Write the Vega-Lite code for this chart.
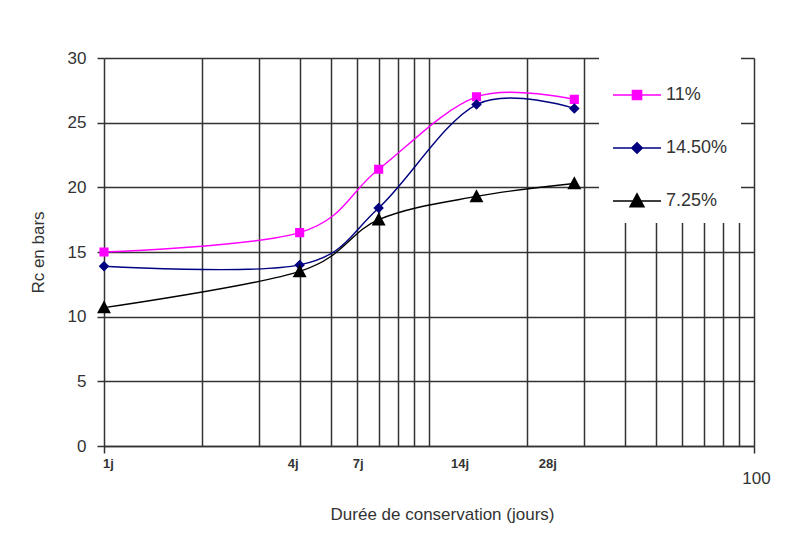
{
  "$schema": "https://vega.github.io/schema/vega-lite/v6.json",
  "width": 650,
  "height": 388,
  "autosize": {"type": "none"},
  "padding": {"left": 104, "top": 58, "right": 46, "bottom": 96},
  "background": "white",
  "config": {"view": {"stroke": null}, "font": "Liberation Sans"},
  "data": {
    "values": [
      {"jours": 1, "rc": 15.0, "serie": "11%"},
      {"jours": 4, "rc": 16.5, "serie": "11%"},
      {"jours": 7, "rc": 21.4, "serie": "11%"},
      {"jours": 14, "rc": 27.0, "serie": "11%"},
      {"jours": 28, "rc": 26.8, "serie": "11%"},
      {"jours": 1, "rc": 13.9, "serie": "14.50%"},
      {"jours": 4, "rc": 14.0, "serie": "14.50%"},
      {"jours": 7, "rc": 18.4, "serie": "14.50%"},
      {"jours": 14, "rc": 26.4, "serie": "14.50%"},
      {"jours": 28, "rc": 26.1, "serie": "14.50%"},
      {"jours": 1, "rc": 10.7, "serie": "7.25%"},
      {"jours": 4, "rc": 13.5, "serie": "7.25%"},
      {"jours": 7, "rc": 17.5, "serie": "7.25%"},
      {"jours": 14, "rc": 19.3, "serie": "7.25%"},
      {"jours": 28, "rc": 20.3, "serie": "7.25%"}
    ]
  },
  "encoding": {
    "x": {
      "field": "jours",
      "type": "quantitative",
      "title": "Durée de conservation (jours)",
      "scale": {"type": "log", "domain": [1, 100], "nice": false},
      "axis": {
        "values": [1, 2, 3, 4, 5, 6, 7, 8, 9, 10, 14, 20, 28, 30, 40, 50, 60, 70, 80, 90, 100],
        "labelExpr": "datum.value == 1 ? '1j' : datum.value == 4 ? '4j' : datum.value == 7 ? '7j' : datum.value == 14 ? '14j' : datum.value == 28 ? '28j' : datum.value == 100 ? '100' : ''",
        "labelOverlap": false,
        "labelFlush": false,
        "labelColor": "#333",
        "labelFontSize": {"condition": {"test": "datum.value == 100", "value": 17}, "value": 13},
        "labelFontWeight": {"condition": {"test": "datum.value == 100", "value": "normal"}, "value": "bold"},
        "labelPadding": {"condition": {"test": "datum.value == 100", "value": 17}, "value": 4},
        "labelOffset": {
          "condition": [
            {"test": "datum.value == 1", "value": 4},
            {"test": "datum.value == 4", "value": -7},
            {"test": "datum.value == 7", "value": -21},
            {"test": "datum.value == 14", "value": -17},
            {"test": "datum.value == 28", "value": -27}
          ],
          "value": 2
        },
        "grid": true,
        "gridColor": "#333",
        "gridWidth": 1.5,
        "gridOpacity": {"condition": {"test": "datum.value == 14 || datum.value == 28", "value": 0}, "value": 1},
        "ticks": true,
        "tickSize": 7,
        "tickColor": "#333",
        "tickWidth": 1.5,
        "tickOpacity": {"condition": {"test": "datum.value == 1 || datum.value == 100", "value": 1}, "value": 0},
        "domain": true,
        "domainColor": "#333",
        "domainWidth": 1.5,
        "titleFontSize": 17,
        "titleFontWeight": "normal",
        "titleColor": "#333",
        "titlePadding": 20,
        "titleX": 338
      }
    },
    "y": {
      "field": "rc",
      "type": "quantitative",
      "title": "Rc en bars",
      "scale": {"domain": [0, 30], "nice": false},
      "axis": {
        "values": [0, 5, 10, 15, 20, 25, 30],
        "domain": false,
        "grid": true,
        "gridColor": "#333",
        "gridWidth": 1.5,
        "ticks": true,
        "tickSize": 7,
        "tickColor": "#333",
        "tickWidth": 1.5,
        "labelFontSize": 17,
        "labelColor": "#333",
        "labelPadding": 11,
        "titleFontSize": 17,
        "titleFontWeight": "normal",
        "titleColor": "#333",
        "titlePadding": 20
      }
    }
  },
  "layer": [
    {
      "mark": {"type": "line", "interpolate": "cardinal", "strokeWidth": 1.4},
      "encoding": {
        "color": {
          "field": "serie",
          "type": "nominal",
          "scale": {"domain": ["11%", "14.50%", "7.25%"], "range": ["#ff00ff", "#000080", "#000000"]},
          "legend": {
            "title": null,
            "orient": "none",
            "legendX": 495,
            "legendY": -1,
            "fillColor": "white",
            "padding": 13,
            "rowPadding": 19,
            "symbolSize": 2304,
            "symbolStrokeWidth": 1.5,
            "symbolOpacity": 1,
            "labelFontSize": 18,
            "labelColor": "#333",
            "labelOffset": 4
          }
        }
      }
    },
    {
      "mark": {"type": "point", "filled": true, "opacity": 1, "size": 2304, "strokeWidth": 0},
      "encoding": {
        "color": {"field": "serie", "type": "nominal", "legend": null},
        "shape": {
          "field": "serie",
          "type": "nominal",
          "scale": {
            "domain": ["11%", "14.50%", "7.25%"],
            "range": [
              "M-1,0H1M-0.19,-0.19H0.19V0.19H-0.19Z",
              "M-1,0H1M0,-0.22L0.22,0L0,0.22L-0.22,0Z",
              "M-1,0H1M0,-0.3L0.29,0.24H-0.29Z"
            ]
          },
          "legend": null
        }
      }
    }
  ]
}
